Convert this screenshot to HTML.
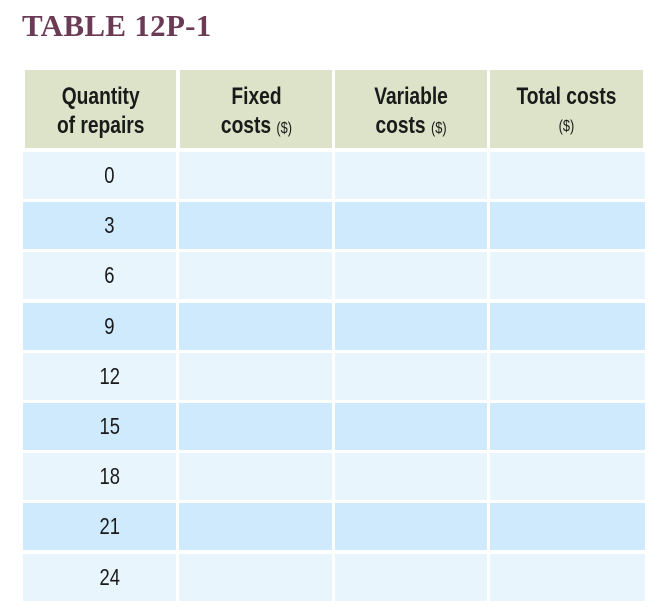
<!DOCTYPE html>
<html><head><style>
body{margin:0;width:672px;height:611px;background:#fff;position:relative;overflow:hidden}
.t{position:absolute;left:22px;top:8px;font-family:"Liberation Serif",serif;font-weight:bold;font-size:31px;color:#6b3a55;letter-spacing:0.3px}
.c{position:absolute;text-align:center;font-family:"Liberation Sans",sans-serif;color:#1a1a1a;box-sizing:border-box}
.c span{display:inline-block;transform:scaleX(0.8);transform-origin:center;white-space:nowrap}
.h{background:#dce3c8;font-weight:bold;font-size:24px;line-height:29px;top:70px;height:78px;padding-top:12px}
.h small{font-size:16px;font-weight:normal}
.n{font-size:23px;line-height:47px;height:47px}
</style></head><body>
<div class="t">TABLE 12P-1</div>
<div class="c h" style="left:25px;width:151px"><span>Quantity<br>of repairs</span></div>
<div class="c h" style="left:180px;width:152px"><span>Fixed<br>costs <small>($)</small></span></div>
<div class="c h" style="left:335px;width:152px"><span>Variable<br>costs <small>($)</small></span></div>
<div class="c h" style="left:490px;width:153px;padding-top:13px;line-height:27px"><span>Total costs<br><small>($)</small></span></div>
<div id="rows"></div>
<script>
var vals=[0,3,6,9,12,15,18,21,24],xs=[[23,153],[179,153],[335,152],[490,155]],h='';
for(var i=0;i<9;i++){var y=152+i*50.2,bg=i%2?'#cfeafc':'#e8f5fd';
for(var j=0;j<4;j++)h+='<div class="c n" style="left:'+xs[j][0]+'px;width:'+xs[j][1]+'px;top:'+y+'px;background:'+bg+(j==0?';padding-left:20px':'')+'">'+(j==0?'<span>'+vals[i]+'</span>':'')+'</div>';}
document.getElementById('rows').innerHTML=h;
</script>
</body></html>
